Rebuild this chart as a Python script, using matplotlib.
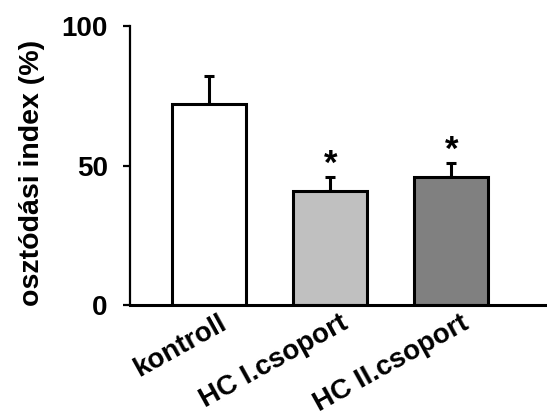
import matplotlib
matplotlib.use("Agg")
import matplotlib.pyplot as plt
import matplotlib.transforms as mtransforms

plt.rcParams["font.family"] = ["Liberation Sans", "DejaVu Sans"]
plt.rcParams["font.weight"] = "bold"

groups = ["kontroll", "HC I.csoport", "HC II.csoport"]
means = [72, 41, 46]
errors = [10, 5, 5]
colors = ["#FFFFFF", "#C0C0C0", "#808080"]
signif = ["", "*", "*"]

fig = plt.figure(figsize=(5.47, 4.19), dpi=100)
ax = fig.add_axes([130 / 547, 1 - 305 / 419, 1 - 130 / 547, (305 - 26) / 419])

x = range(len(groups))
ax.bar(x, means, width=0.61, color=colors, edgecolor="black", linewidth=2.2, zorder=2)
ax.errorbar(x, means, yerr=[[0] * len(errors), errors], fmt="none", ecolor="black",
            elinewidth=2.2, capsize=3.6, capthick=2.2, zorder=1)
for i, s in enumerate(signif):
    if s:
        ax.text(i, means[i] + errors[i] - 1.5, s, ha="center", va="bottom",
                fontsize=25, fontweight="bold")

ax.set_xlim(-0.653, 2.79)
ax.set_ylim(0, 100)
ax.set_yticks([0, 50, 100])
ax.tick_params(axis="y", length=5, width=1.6, pad=11, labelsize=20)
ax.tick_params(axis="x", length=0, pad=4)
for sp in ["top", "right"]:
    ax.spines[sp].set_visible(False)
ax.spines["left"].set_linewidth(1.6)
ax.spines["bottom"].set_linewidth(2.2)

ax.set_xticks(list(x))
ax.set_xticklabels(groups, rotation=29, ha="right", va="top",
                   rotation_mode="anchor", fontsize=20, fontweight="bold")
offset = mtransforms.ScaledTranslation(7 / 72, 0, fig.dpi_scale_trans)
for lbl in ax.get_xticklabels():
    lbl.set_transform(lbl.get_transform() + offset)

ax.set_ylabel("osztódási index (%)", fontsize=20.5, fontweight="bold")
ax.yaxis.set_label_coords(-0.205, 0.475)

fig.savefig("out.png", dpi=100)
